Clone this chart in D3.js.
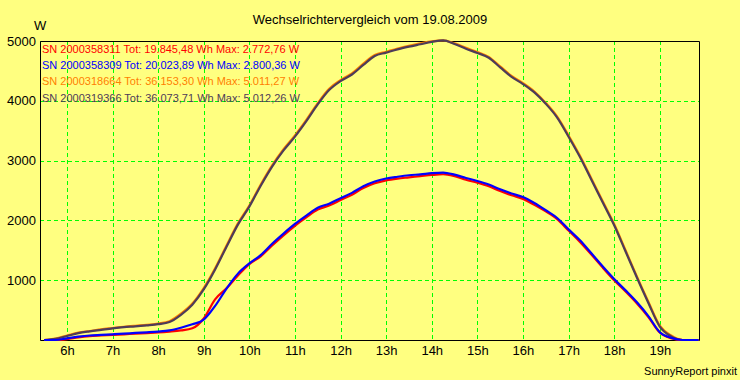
<!DOCTYPE html>
<html><head><meta charset="utf-8">
<script src="https://cdn.jsdelivr.net/npm/d3@7"></script>
<style>html,body{margin:0;padding:0;background:#ffff80;}svg{display:block;}</style>
</head><body>
<script>
const hours = [5.5,5.75,6,6.25,6.5,6.75,7,7.25,7.5,7.75,8,8.25,8.5,8.75,9,9.25,9.5,9.75,10,10.25,10.5,10.75,11,11.25,11.5,11.75,12,12.25,12.5,12.75,13,13.25,13.5,13.75,14,14.25,14.5,14.75,15,15.25,15.5,15.75,16,16.25,16.5,16.75,17,17.25,17.5,17.75,18,18.25,18.5,18.75,19,19.25,19.5,19.75,19.85];
const sn311 = [0,0,15,45,65,75,85,95,105,115,125,140,160,195,360,680,865,1080,1270,1400,1580,1750,1910,2050,2180,2250,2340,2430,2540,2620,2670,2700,2720,2740,2760,2772,2740,2680,2630,2570,2490,2420,2360,2260,2150,2020,1830,1640,1430,1210,1000,810,610,385,125,30,0,0,0];
const sn309 = [0,0,28,55,75,85,95,105,118,128,140,160,205,262,340,570,860,1110,1280,1420,1610,1780,1940,2080,2210,2280,2370,2460,2570,2650,2700,2730,2755,2770,2790,2800,2765,2710,2660,2600,2520,2450,2390,2290,2170,2040,1850,1667,1450,1230,1020,830,630,400,130,35,0,0,0];
const sn664 = [0,25,75,125,150,178,200,222,238,252,275,315,440,610,870,1200,1580,1950,2250,2600,2920,3190,3420,3680,3960,4200,4345,4460,4620,4765,4820,4875,4920,4960,4995,5011,4960,4885,4815,4735,4575,4415,4295,4155,3965,3735,3420,3080,2700,2320,1940,1500,1060,640,240,75,0,0,0];
const sn366 = [0,20,67,115,145,170,195,215,228,245,265,300,420,590,845,1180,1560,1930,2230,2580,2900,3170,3400,3660,3940,4180,4330,4440,4600,4750,4805,4860,4905,4945,4985,5012,4950,4870,4800,4720,4560,4400,4280,4140,3950,3720,3400,3060,2680,2300,1920,1480,1040,620,225,60,0,0,0];
const legendLines = [
  "SN 2000358311 Tot: 19.845,48 Wh Max: 2.772,76 W",
  "SN 2000358309 Tot: 20.023,89 Wh Max: 2.800,36 W",
  "SN 2000318664 Tot: 36.153,30 Wh Max: 5.011,27 W",
  "SN 2000319366 Tot: 36.073,71 Wh Max: 5.012,26 W"
];
const yTicks = [1000,2000,3000,4000,5000];
const xTicks = [6,7,8,9,10,11,12,13,14,15,16,17,18,19];
const titleText = "Wechselrichtervergleich vom 19.08.2009";

const W = 740, H = 380;
const L = 40, R = 699, T = 41, B = 340;
const font = "'Liberation Sans', Arial, sans-serif";
const svg = d3.select("body").append("svg").attr("width", W).attr("height", H).style("font-family", font);
svg.append("rect").attr("width", W).attr("height", H).attr("fill", "#ffff80");

const x = d3.scaleLinear().domain([5.41, 19.86]).range([L, R]);
const y = d3.scaleLinear().domain([0, 5000]).range([B, T]);

// grid
const g = svg.append("g");
g.selectAll(".vg").data(xTicks).join("line")
  .attr("x1", d => Math.round(x(d)) + 0.5).attr("x2", d => Math.round(x(d)) + 0.5)
  .attr("y1", T).attr("y2", B)
  .attr("stroke", "#00ff00").attr("stroke-width", 1).attr("stroke-dasharray", "4,3");
g.selectAll(".hg").data(yTicks).join("line")
  .attr("y1", d => Math.round(y(d)) + 0.5).attr("y2", d => Math.round(y(d)) + 0.5)
  .attr("x1", L).attr("x2", R)
  .attr("stroke", "#00ff00").attr("stroke-width", 1).attr("stroke-dasharray", "4,3");

// frame
svg.append("path").attr("d", `M${L+0.5},${T+0.5}H${R+0.5}V${B+0.5}H${L+0.5}Z`)
  .attr("fill", "none").attr("stroke", "#000").attr("stroke-width", 1);

// axes labels via d3 axes
const yAxis = d3.axisLeft(y).tickValues(yTicks).tickSize(0).tickPadding(4).tickFormat(d3.format("d"));
const ya = svg.append("g").attr("transform", `translate(${L},0)`).call(yAxis);
ya.select(".domain").remove();
ya.selectAll("text").attr("font-size", 13).attr("font-family", font).attr("fill", "#000");

const xAxis = d3.axisBottom(x).tickValues(xTicks).tickSize(0).tickPadding(6).tickFormat(d => d + "h");
const xa = svg.append("g").attr("transform", `translate(0,${B})`).call(xAxis);
xa.select(".domain").remove();
xa.selectAll("text").attr("font-size", 13).attr("font-family", font).attr("fill", "#000");

// lines
const series = [
  {vals: sn664, color: "#ff8000"},
  {vals: sn366, color: "#4e3c58"},
  {vals: sn311, color: "#ff0000"},
  {vals: sn309, color: "#0000ff"}
];
const line = d3.line().curve(d3.curveMonotoneX).x(d => x(d[0])).y(d => y(d[1]));
series.forEach(s => {
  svg.append("path").datum(hours.map((h, i) => [h, s.vals[i]]))
    .attr("d", line).attr("fill", "none").attr("stroke", s.color)
    .attr("stroke-width", 2.2).attr("stroke-linejoin", "round");
});

// legend
const legColors = ["#ff0000", "#0000ff", "#ff8000", "#4e3c58"];
svg.selectAll(".leg").data(legendLines).join("text")
  .attr("x", 42).attr("y", (d, i) => 53 + i * 16.2)
  .attr("font-size", 11).attr("fill", (d, i) => legColors[i]).text(d => d);

// title and labels
svg.append("text").attr("x", 370).attr("y", 24).attr("text-anchor", "middle")
  .attr("font-size", 13).attr("fill", "#000").text(titleText);
svg.append("text").attr("x", 34).attr("y", 30).attr("font-size", 13).attr("fill", "#000").text("W");
svg.append("text").attr("x", 737).attr("y", 375).attr("text-anchor", "end")
  .attr("font-size", 11).attr("fill", "#000").text("SunnyReport pinxit");
</script>
</body></html>
